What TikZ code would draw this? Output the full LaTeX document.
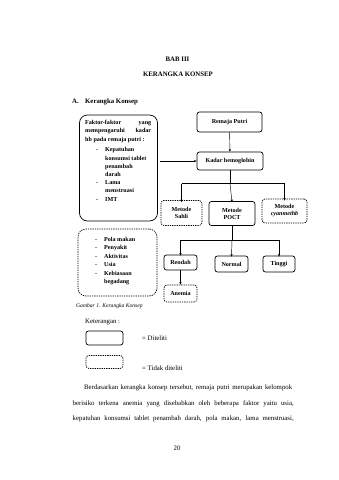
\documentclass[tikz,border=0pt]{standalone}
\usepackage{fontspec}
\setmainfont{Liberation Serif}
\usetikzlibrary{arrows.meta}
\newcommand\bodyfs{\fontsize{6.8}{8}\selectfont}
\newcommand\boxfs{\fontsize{6.1}{7}\selectfont\bfseries}
\newcommand\capfs{\fontsize{5.6}{7}\selectfont\itshape}
\begin{document}
\begin{tikzpicture}[x=1pt,y=-1pt,
  solidbox/.style={draw, line width=0.7pt, rounded corners=2.5pt, inner sep=0pt, font=\boxfs, align=center},
  dashbox/.style={draw, line width=0.7pt, dash pattern=on 1.3pt off 1pt, rounded corners=3pt, inner sep=0pt, font=\boxfs, align=center},
  conn/.style={line width=0.45pt},
  arr/.style={conn, -{Stealth[length=2.6pt,width=2.2pt]}},
  bodytxt/.style={font=\bodyfs, inner sep=0pt, anchor=base west},
  boxtxt/.style={font=\boxfs, inner sep=0pt, anchor=base west}]
\useasboundingbox (0,0) rectangle (339,480);
\fill[white] (0,0) rectangle (339,480);

% headings
\node[font=\bodyfs\bfseries, inner sep=0pt, anchor=base] (bab) at (177.5,61) {BAB III};
\node[font=\bodyfs\bfseries, inner sep=0pt, anchor=base] (kk) at (178,76.5) {KERANGKA KONSEP};
\node[font=\bodyfs\bfseries, inner sep=0pt, anchor=base west] (a) at (72,103) {A.};
\node[font=\bodyfs\bfseries, inner sep=0pt, anchor=base west] (ak) at (85,103) {Kerangka Konsep};

% upper left box
\node[draw, line width=0.7pt, rounded corners=8pt, minimum width=78pt, minimum height=106pt] (lb) at (118.5,168) {};
\node[boxtxt] (l1) at (85,124) {\makebox[66pt][s]{Faktor-faktor \hfill yang}};
\node[boxtxt] (l2) at (85,132.5) {\makebox[66pt][s]{mempengaruhi \hfill kadar}};
\node[boxtxt] (l3) at (85,141) {hb pada remaja putri :};
\node[boxtxt] (b1) at (96,151.5) {-};
\node[boxtxt] (t1) at (105,151.5) {Kepatuhan};
\node[boxtxt] (t1b) at (105,160) {konsumsi tablet};
\node[boxtxt] (t1c) at (105,168) {penambah};
\node[boxtxt] (t1d) at (105,176.5) {darah};
\node[boxtxt] (b2) at (96,184.5) {-};
\node[boxtxt] (t2) at (105,184.5) {Lama};
\node[boxtxt] (t2b) at (105,192.5) {menstruasi};
\node[boxtxt] (b3) at (96,201) {-};
\node[boxtxt] (t3) at (105,201) {IMT};

% lower left dashed box
\node[draw, line width=0.7pt, dash pattern=on 1.3pt off 1pt, rounded corners=8pt, minimum width=79pt, minimum height=67pt] (db) at (117.5,262.5) {};
\node[boxtxt] (c1) at (95,241) {-};
\node[boxtxt] (d1) at (104,241) {Pola makan};
\node[boxtxt] (c2) at (95,249.5) {-};
\node[boxtxt] (d2) at (104,249.5) {Penyakit};
\node[boxtxt] (c3) at (95,258) {-};
\node[boxtxt] (d3) at (104,258) {Aktivitas};
\node[boxtxt] (c4) at (95,266.5) {-};
\node[boxtxt] (d4) at (104,266.5) {Usia};
\node[boxtxt] (c5) at (95,275) {-};
\node[boxtxt] (d5) at (104,275) {Kebiasaan};
\node[boxtxt] (d5b) at (104,283.5) {begadang};

\node[font=\capfs, inner sep=0pt, anchor=base west] (cap) at (76,307.5) {Gambar 1. Kerangka Konsep};

% right diagram
\node[solidbox, minimum width=65pt, minimum height=20pt] (rp) at (229.5,122) {Remaja Putri};
\node[solidbox, minimum width=66pt, minimum height=18pt] (kh) at (230,161) {Kadar hemoglobin};
\node[dashbox, minimum width=41pt, minimum height=25pt] (ms) at (181.5,213) {Metode\\Sahli};
\node[solidbox, minimum width=46pt, minimum height=24pt] (mp) at (232,213.5) {Metode\\POCT};
\node[dashbox, minimum width=45pt, minimum height=24pt] (mc) at (284.5,211) {Metode\\\textit{cyanmethb}};
\node[solidbox, minimum width=33pt, minimum height=15pt] (re) at (180.5,262.5) {Rendah};
\node[solidbox, minimum width=33pt, minimum height=16pt] (no) at (231.5,264) {Normal};
\node[solidbox, minimum width=32pt, minimum height=16pt] (ti) at (279,264) {Tinggi};
\node[dashbox, minimum width=33pt, minimum height=17pt] (an) at (180.5,293.5) {Anemia};

\coordinate (j1) at (230,183.5);
\coordinate (j2) at (232,240);

\draw[arr] (rp) -- (kh);
\draw[arr, shorten <=2.5pt] (lb.east |- kh.west) -- (kh.west);
\draw[conn] (kh) -- (j1);
\draw[conn] (ms.north |- j1) -- (mc.north |- j1);
\draw[arr] (ms.north |- j1) -- ([yshift=-2pt]ms.north);
\draw[arr] (j1) -- ([yshift=-1pt]mp.north);
\draw[arr] (mc.north |- j1) -- ([yshift=-2pt]mc.north);
\draw[conn] (mp) -- (j2);
\draw[conn] (re.north |- j2) -- (ti.north |- j2);
\draw[arr] (re.north |- j2) -- ([yshift=-1pt]re.north);
\draw[arr] (j2) -- ([yshift=-1pt]no.north);
\draw[arr] (ti.north |- j2) -- ([yshift=-1pt]ti.north);
\draw[arr] (re) -- (an);

% legend
\node[bodytxt] (ket) at (85,323) {Keterangan :};
\node[solidbox, minimum width=37pt, minimum height=14pt] (ls) at (104.5,338) {};
\node[bodytxt] (ld) at (142,340) {= Diteliti};
\node[dashbox, minimum width=37pt, minimum height=13pt] (lt) at (104.5,362) {};
\node[bodytxt] (ltd) at (142,370) {= Tidak diteliti};

% paragraph
\node[bodytxt] (p1) at (84,389.5) {\makebox[208pt][s]{Berdasarkan kerangka konsep tersebut, remaja putri merupakan kelompok}};
\node[bodytxt] (p2) at (72.5,405) {\makebox[221pt][s]{berisiko terkena anemia yang disebabkan oleh beberapa faktor yaitu usia,}};
\node[bodytxt] (p3) at (72.5,420.5) {\makebox[221pt][s]{kepatuhan konsumsi tablet penambah darah, pola makan, lama menstruasi,}};
\node[font=\bodyfs, inner sep=0pt, anchor=base] (pg) at (177,450) {20};
\end{tikzpicture}
\end{document}
